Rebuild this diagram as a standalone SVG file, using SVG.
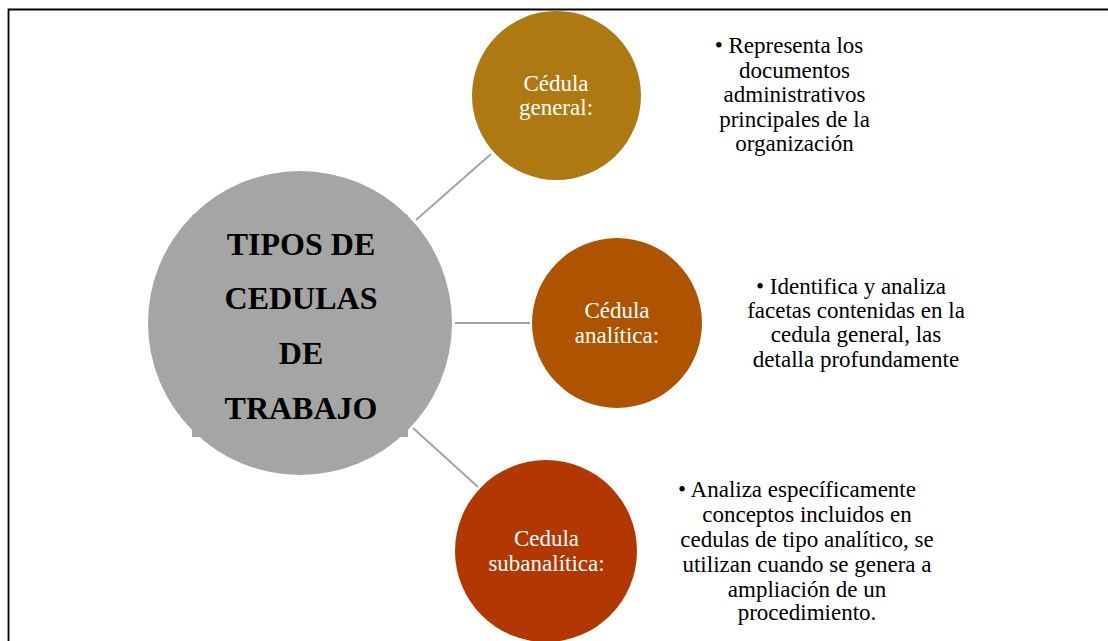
<svg xmlns="http://www.w3.org/2000/svg" width="1108" height="641" viewBox="0 0 1108 641">
<style>
.lbl{font-family:"Liberation Serif","Times New Roman",serif;font-size:23px;fill:#ffffff;text-anchor:middle}
.desc{font-family:"Liberation Serif","Times New Roman",serif;font-size:23px;fill:#000000;text-anchor:middle}
.main{font-family:"Liberation Serif","Times New Roman",serif;font-size:32px;font-weight:bold;fill:#000000;text-anchor:middle}
.conn{stroke:#a5a5a5;stroke-width:2;fill:none}
</style>
<rect x="0" y="0" width="1108" height="641" fill="#ffffff"/>
<path d="M8.5,641 V9.5 H1108" fill="none" stroke="#000000" stroke-width="1.8"/>
<g id="connectors">
<line class="conn" x1="416" y1="220" x2="491" y2="154"/>
<line class="conn" x1="455" y1="323" x2="530" y2="323"/>
<line class="conn" x1="413" y1="428" x2="478" y2="487"/>
</g>
<g id="node-main">
<circle cx="300" cy="323" r="152" fill="#a5a5a5"/>
<rect x="192" y="215" width="216" height="222" fill="#a5a5a5"/>
<text class="main" x="301" y="255">TIPOS DE</text>
<text class="main" x="301" y="309">CEDULAS</text>
<text class="main" x="301" y="364">DE</text>
<text class="main" x="301" y="419">TRABAJO</text>
</g>
<g id="node-general">
<circle cx="556.5" cy="95.5" r="84.5" fill="#ad7910"/>
<text class="lbl" x="556" y="91">Cédula</text>
<text class="lbl" x="556" y="115">general:</text>
</g>
<g id="node-analitica">
<circle cx="617" cy="323" r="85" fill="#ae5300"/>
<text class="lbl" x="617" y="318">Cédula</text>
<text class="lbl" x="617" y="343">analítica:</text>
</g>
<g id="node-subanalitica">
<circle cx="546" cy="551" r="91" fill="#b33700"/>
<text class="lbl" x="546.5" y="546">Cedula</text>
<text class="lbl" x="546.5" y="571">subanalítica:</text>
</g>
<g id="desc-general">
<text class="desc" x="789" y="53">• Representa los</text>
<text class="desc" x="794.5" y="78">documentos</text>
<text class="desc" x="794.5" y="102">administrativos</text>
<text class="desc" x="794.5" y="127">principales de la</text>
<text class="desc" x="794.5" y="151">organización</text>
</g>
<g id="desc-analitica">
<text class="desc" x="851" y="294">• Identifica y analiza</text>
<text class="desc" x="856" y="318">facetas contenidas en la</text>
<text class="desc" x="856" y="342">cedula general, las</text>
<text class="desc" x="856" y="367">detalla profundamente</text>
</g>
<g id="desc-subanalitica">
<text class="desc" x="797" y="497">• Analiza específicamente</text>
<text class="desc" x="807" y="522">conceptos incluidos en</text>
<text class="desc" x="807" y="547">cedulas de tipo analítico, se</text>
<text class="desc" x="807" y="572">utilizan cuando se genera a</text>
<text class="desc" x="807" y="597">ampliación de un</text>
<text class="desc" x="807" y="620">procedimiento.</text>
</g>
</svg>
